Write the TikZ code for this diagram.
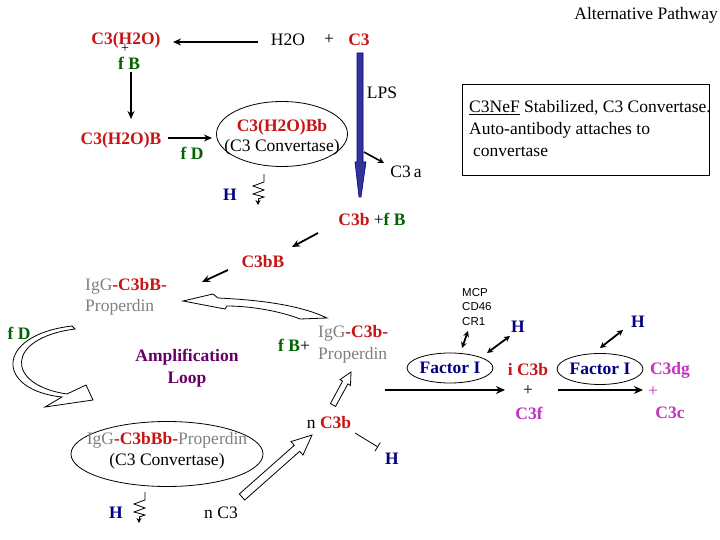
\documentclass[tikz,border=0pt]{standalone}
\usepackage{fontspec}
\setmainfont{Liberation Serif}
\newfontfamily\smallsans{Liberation Sans}
\usetikzlibrary{arrows.meta,shapes.geometric}
\definecolor{cred}{RGB}{200,20,20}
\definecolor{cgreen}{RGB}{0,100,0}
\definecolor{cnavy}{RGB}{0,0,128}
\definecolor{cpurple}{RGB}{102,0,102}
\definecolor{cmag}{RGB}{195,50,195}
\definecolor{cgray}{RGB}{128,128,128}
\definecolor{cblue}{RGB}{51,51,153}
\begin{document}
\begin{tikzpicture}[x=1pt,y=-1pt,
  txt/.style={inner sep=0pt, font=\fontsize{17.5}{21}\selectfont},
  bt/.style={inner sep=0pt, font=\fontsize{17.5}{21}\selectfont\bfseries},
  arr/.style={-{Stealth[length=8pt,width=7pt]}, line width=1.8pt},
  harr/.style={-{Stealth[length=9pt,width=8pt]}, line width=2.4pt},
  dbl/.style={{Stealth[length=6pt,width=6pt]}-{Stealth[length=6pt,width=6pt]}, line width=1.8pt},
  ell/.style={draw, ellipse, line width=0.8pt, inner sep=0pt},
  hollow/.style={draw=black, fill=white, line width=0.8pt, line join=miter},
  zz/.pic={\draw[line width=0.8pt] (0,0) -- (0,8) -- (-11,12) -- (0,16) -- (-11,20) -- (0,23) -- (-6,25);
           \draw[-{Stealth[length=5pt,width=5pt]}, line width=0.8pt] (-6,25) -- (-6,31);}]
\fill[white] (0,0) rectangle (720,540);
\useasboundingbox (0,0) rectangle (720,540);

% title
\node[txt, anchor=east] (alt) at (718,15) {Alternative Pathway};

% top row
\node[bt, text=cred] (c3h2o) at (126,40) {C3(H2O)};
\node[inner sep=0pt, font=\fontsize{14}{14}\selectfont] (plusA) at (125,49) {+};
\node[bt, text=cgreen] (fbA) at (129,63) {f B};
\node[txt] (h2o) at (288,40) {H2O};
\node[txt] (plusB) at (329,40) {+};
\node[bt, text=cred] (c3top) at (359,40) {C3};

\coordinate (a1s) at (258,42); \coordinate (a1e) at (173,42);
\draw[arr] (a1s) -- (a1e);
\coordinate (a2s) at (131,72); \coordinate (a2e) at (131,119);
\draw[arr] (a2s) -- (a2e);

\node[bt, text=cred] (c3h2ob) at (121,140) {C3(H2O)B};
\node[bt, text=cgreen] (fdA) at (192,153) {f D};
\coordinate (a3s) at (168,138); \coordinate (a3e) at (212,138);
\draw[arr] (a3s) -- (a3e);

\node[ell, minimum width=131pt, minimum height=65pt] (conv1) at (282,134) {};
\node[bt, text=cred] (conv1a) at (282,127) {C3(H2O)Bb};
\node[txt] (conv1b) at (282,147) {(C3 Convertase)};

% blue LPS arrow
\filldraw[fill=cblue, draw=cnavy, line width=0.6pt] (357,53) -- (363,53) -- (363,162) -- (366,162) -- (361,197) -- (359,197) -- (355,162) -- (357,162) -- cycle;
\node[txt] (lps) at (382,93) {LPS};
\coordinate (a4s) at (364,152); \coordinate (a4e) at (384,163);
\draw[-{Stealth[length=6pt,width=6pt]}, line width=1.6pt] (a4s) -- (a4e);
\node[txt] (c3a) at (406,172) {C3\,a};

% H inhibitor 1
\node[bt, text=cnavy] (H1) at (230,195) {H};
\pic at (264,174) {zz};

% box
\node[draw, line width=0.8pt, minimum width=247pt, minimum height=91pt, inner sep=0pt, anchor=north west] (box) at (462,84) {};
\node[inner sep=0pt, font=\fontsize{17.5}{22}\selectfont, align=left, anchor=west] (boxtxt) at (469,129) {\underline{C3NeF} Stabilized, C3 Convertase.\\Auto-antibody attaches to\\\hspace{4pt}convertase};

% C3b + fB chain
\node[txt] (c3bfb) at (372,219) {\textcolor{cred}{\bfseries C3b} +\textcolor{cgreen}{\bfseries f B}};
\coordinate (a5s) at (318,233); \coordinate (a5e) at (292,247);
\draw[arr] (a5s) -- (a5e);
\node[bt, text=cred] (c3bB) at (263,262) {C3bB};
\coordinate (a6s) at (228,270); \coordinate (a6e) at (202,282);
\draw[arr] (a6s) -- (a6e);

\node[txt, align=left, anchor=west, text=cgray] (igg1) at (85,297) {IgG\textcolor{cred}{\bfseries -C3bB-}\\Properdin};

% hollow curved arrow top
\draw[hollow] (183,301) -- (213,294) -- (218,298) .. controls (260,300) and (300,305) .. (327,318) -- (300,319) .. controls (280,311) and (250,306) .. (227,306) -- (225,309) -- cycle;

\node[bt, text=cgreen] (fdB) at (19,333) {f D};
% hollow curved arrow left
\draw[hollow] (72,326) .. controls (-5,335) and (-5,390) .. (62,397) -- (45,407) -- (93,400) -- (86,385) -- (67,394) .. controls (5,385) and (5,338) .. (75,329) -- cycle;

\node[bt, text=cpurple, align=center, font=\fontsize{17.5}{22}\selectfont\bfseries] (amp) at (187,368) {Amplification\\Loop};

\node[txt] (fbplus) at (294,345) {\textcolor{cgreen}{\bfseries f B}+};
\node[txt, align=left, anchor=west, text=cgray, font=\fontsize{17.5}{22}\selectfont] (igg2) at (318,344) {IgG\textcolor{cred}{\bfseries -C3b-}\\Properdin};

% bottom convertase
\node[ell, minimum width=192pt, minimum height=65pt] (conv2) at (167,454) {};
\node[txt, align=center] (conv2t) at (167,451) {\textcolor{cgray}{IgG}\textcolor{cred}{\bfseries -C3bBb-}\textcolor{cgray}{Properdin}\\(C3 Convertase)};
\node[bt, text=cnavy] (H5) at (116,513) {H};
\pic at (145,492) {zz};
\node[txt] (nc3) at (221,513) {n C3};

% hollow straight arrows
\draw[hollow] (239.3,494) -- (294.3,445.3) -- (291,441.6) -- (312,435) -- (303,455) -- (299.7,451.3) -- (244.7,500) -- cycle;
\node[txt] (nc3b) at (329,423) {n \textcolor{cred}{\bfseries C3b}};
\draw[hollow] (330.4,403.6) -- (342.6,381.1) -- (340,379.6) -- (351,372) -- (350.5,385.4) -- (347.9,383.9) -- (335.6,406.4) -- cycle;

\coordinate (tbs) at (355,433); \coordinate (tbe) at (378,447);
\draw[line width=0.8pt, -{Bar[width=10pt]}] (tbs) -- (tbe);
\node[bt, text=cnavy] (H4) at (392,459) {H};

% Factor I chain
\node[inner sep=0pt, font=\smallsans\fontsize{11.5}{14.5}\selectfont, align=left, anchor=west] (mcp) at (462,307) {MCP\\CD46\\CR1};
\node[ell, minimum width=84pt, minimum height=30pt, text=cnavy, font=\fontsize{17.5}{21}\selectfont\bfseries] (fi1) at (450,368) {Factor I};
\node[bt, text=cnavy] (H2) at (518,327) {H};
\coordinate (d1a) at (468,331); \coordinate (d1b) at (462,348);
\draw[dbl] (d1a) -- (d1b);
\coordinate (d2a) at (487,353); \coordinate (d2b) at (510,336);
\draw[dbl] (d2a) -- (d2b);
\coordinate (h1s) at (385,390); \coordinate (h1e) at (505,390);
\draw[harr] (h1s) -- (h1e);

\node[bt, text=cred] (ic3b) at (528,370) {i C3b};
\node[txt] (plusC) at (528,391) {+};
\node[bt, text=cmag] (c3f) at (529,413) {C3f};

\node[ell, minimum width=84pt, minimum height=31pt, text=cnavy, font=\fontsize{17.5}{21}\selectfont\bfseries] (fi2) at (600,369) {Factor I};
\node[bt, text=cnavy] (H3) at (638,322) {H};
\coordinate (d3a) at (600,348); \coordinate (d3b) at (623,330);
\draw[dbl] (d3a) -- (d3b);
\coordinate (h2s) at (558,390); \coordinate (h2e) at (643,390);
\draw[harr] (h2s) -- (h2e);

\node[bt, text=cmag] (c3dg) at (670,370) {C3dg};
\node[txt, text=cmag] (plusD) at (653,392) {+};
\node[bt, text=cmag] (c3c) at (670,413) {C3c};
\end{tikzpicture}
\end{document}
